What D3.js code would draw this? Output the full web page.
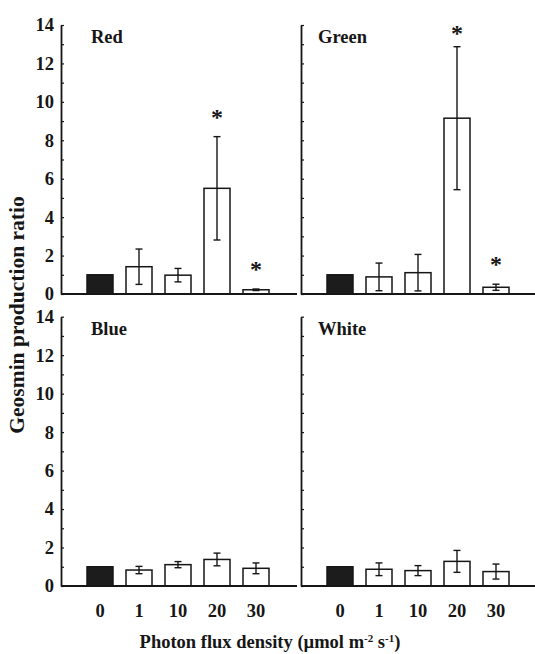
<!DOCTYPE html>
<html>
<head>
<meta charset="utf-8">
<script src="https://cdn.jsdelivr.net/npm/d3@7"></script>
<style>
  html, body { margin: 0; padding: 0; background: #fff; }
  svg { display: block; font-family: "Liberation Serif", "Times New Roman", serif; font-weight: bold; }
</style>
</head>
<body>
<svg id="chart" width="535" height="654"></svg>
<script>
var categories = ["0", "1", "10", "20", "30"];

var redMeans = [1.0, 1.42, 0.98, 5.5, 0.22];
var redErrors = [0, 0.92, 0.35, 2.69, 0.04];
var redStars = [false, false, false, true, true];

var greenMeans = [1.0, 0.89, 1.11, 9.15, 0.35];
var greenErrors = [0, 0.72, 0.95, 3.72, 0.16];
var greenStars = [false, false, false, true, true];

var blueMeans = [1.0, 0.83, 1.11, 1.38, 0.92];
var blueErrors = [0, 0.19, 0.16, 0.33, 0.28];
var blueStars = [false, false, false, false, false];

var whiteMeans = [1.0, 0.87, 0.8, 1.28, 0.75];
var whiteErrors = [0, 0.33, 0.26, 0.57, 0.39];
var whiteStars = [false, false, false, false, false];

var yTicks = d3.range(0, 15);

var panels = [
  { name: "Red", col: 0, row: 0, means: redMeans, errors: redErrors, stars: redStars },
  { name: "Green", col: 1, row: 0, means: greenMeans, errors: greenErrors, stars: greenStars },
  { name: "Blue", col: 0, row: 1, means: blueMeans, errors: blueErrors, stars: blueStars },
  { name: "White", col: 1, row: 1, means: whiteMeans, errors: whiteErrors, stars: whiteStars }
];

var layout = {
  colX: [61, 301],
  colWidth: [236, 234],
  labelDx: [30, 17],
  rowTop: [25, 316.7],
  rowBottom: [294, 586],
  step: 39
};

var svg = d3.select("#chart");
var ink = "#161616";
var serif = "Liberation Serif, Times New Roman, serif";

panels.forEach(function (p) {
  var x0 = layout.colX[p.col];

  var y = d3.scaleLinear()
    .domain([0, 14])
    .range([layout.rowBottom[p.row], layout.rowTop[p.row]]);

  var x = d3.scaleBand()
    .domain(categories)
    .range([x0 + layout.step / 2, x0 + layout.step * 5.5])
    .paddingInner(1 / 3)
    .paddingOuter(1 / 6);

  var g = svg.append("g").attr("class", "panel");

  var rows = categories.map(function (c, i) {
    return { cat: c, mean: p.means[i], err: p.errors[i], star: p.stars[i], control: i === 0 };
  });

  // bars
  g.selectAll(".bar")
    .data(rows)
    .enter()
    .append("rect")
    .attr("class", "bar")
    .attr("x", function (d) { return x(d.cat); })
    .attr("y", function (d) { return y(d.mean); })
    .attr("width", x.bandwidth())
    .attr("height", function (d) { return y(0) - y(d.mean); })
    .attr("fill", function (d) { return d.control ? "#1c1c1c" : "#fff"; })
    .attr("stroke", ink)
    .attr("stroke-width", 1.5);

  // error bars
  var errs = g.selectAll(".err")
    .data(rows.filter(function (d) { return d.err > 0; }))
    .enter()
    .append("g")
    .attr("class", "err")
    .attr("stroke", ink)
    .attr("stroke-width", 1.4);

  errs.append("line")
    .attr("x1", function (d) { return x(d.cat) + x.bandwidth() / 2; })
    .attr("x2", function (d) { return x(d.cat) + x.bandwidth() / 2; })
    .attr("y1", function (d) { return y(d.mean - d.err); })
    .attr("y2", function (d) { return y(d.mean + d.err); });

  [1, -1].forEach(function (s) {
    errs.append("line")
      .attr("x1", function (d) { return x(d.cat) + x.bandwidth() / 2 - 3.5; })
      .attr("x2", function (d) { return x(d.cat) + x.bandwidth() / 2 + 3.5; })
      .attr("y1", function (d) { return y(d.mean + s * d.err); })
      .attr("y2", function (d) { return y(d.mean + s * d.err); });
  });

  // significance stars
  g.selectAll(".star")
    .data(rows.filter(function (d) { return d.star; }))
    .enter()
    .append("text")
    .attr("class", "star")
    .attr("x", function (d) { return x(d.cat) + x.bandwidth() / 2; })
    .attr("y", function (d) { return Math.max(y(d.mean + d.err) - 12, y(14) + 16); })
    .attr("text-anchor", "middle")
    .attr("font-size", 24)
    .attr("fill", ink)
    .text("*");

  // y axis, ticks pointing inward
  var yAxis = d3.axisLeft(y)
    .tickValues(yTicks)
    .tickSizeInner(-3)
    .tickSizeOuter(0)
    .tickPadding(7)
    .tickFormat(function (d) { return p.col === 0 && d % 2 === 0 ? d : ""; });

  var ya = g.append("g")
    .attr("transform", "translate(" + x0 + ",0)")
    .call(yAxis);
  ya.select(".domain").attr("stroke", ink).attr("stroke-width", 1.8);
  ya.selectAll(".tick line").attr("stroke", ink).attr("stroke-width", 1.2);
  ya.selectAll(".tick text")
    .attr("font-size", 18.5)
    .attr("font-family", serif)
    .attr("font-weight", "bold")
    .attr("fill", ink);

  // x baseline
  g.append("line")
    .attr("x1", x0)
    .attr("x2", x0 + layout.colWidth[p.col])
    .attr("y1", y(0))
    .attr("y2", y(0))
    .attr("stroke", ink)
    .attr("stroke-width", 1.8);

  if (p.row === 1) {
    var xa = g.append("g")
      .attr("transform", "translate(0," + y(0) + ")")
      .call(d3.axisBottom(x).tickSize(0).tickPadding(18));
    xa.select(".domain").remove();
    xa.selectAll(".tick text")
      .attr("font-size", 18.5)
      .attr("font-family", serif)
      .attr("font-weight", "bold")
      .attr("fill", ink);
  }

  g.append("text")
    .attr("x", x0 + layout.labelDx[p.col])
    .attr("y", y(14) + 18)
    .attr("font-size", 18.5)
    .attr("fill", ink)
    .text(p.name);
});

// axis titles
svg.append("text")
  .attr("transform", "translate(24,315) rotate(-90)")
  .attr("text-anchor", "middle")
  .attr("font-size", 21.5)
  .attr("fill", ink)
  .text("Geosmin production ratio");

var xt = svg.append("text")
  .attr("x", 270)
  .attr("y", 648)
  .attr("text-anchor", "middle")
  .attr("font-size", 18.5)
  .attr("fill", ink);
xt.append("tspan").text("Photon flux density (\u00b5mol m");
xt.append("tspan").attr("font-size", 11).attr("dy", -6).text("-2");
xt.append("tspan").attr("dy", 6).text(" s");
xt.append("tspan").attr("font-size", 11).attr("dy", -6).text("-1");
xt.append("tspan").attr("dy", 6).text(")");
</script>
</body>
</html>
